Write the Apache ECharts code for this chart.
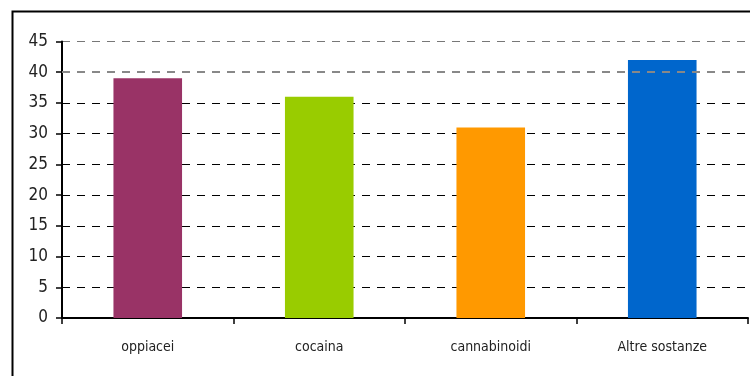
<!DOCTYPE html>
<html>
<head>
<meta charset="utf-8">
<script src="https://cdn.jsdelivr.net/npm/echarts@6/dist/echarts.min.js"></script>
<style>
  html, body { margin: 0; padding: 0; background: #fff; }
  #chart { width: 750px; height: 376px; }
</style>
</head>
<body>
<div id="chart"></div>
<script>
// Categories and values
const categories = ['oppiacei', 'cocaina', 'cannabinoidi', 'Altre sostanze'];
const values = [39, 36, 31, 42];
const barColors = ['#993366', '#99CC00', '#FF9900', '#0066CC'];
const yTicks = { min: 0, max: 45, interval: 5 };

const FONT = '"Liberation Sans Narrow", "Arial Narrow", "DejaVu Sans Condensed", sans-serif';

const chart = echarts.init(document.getElementById('chart'), null, { renderer: 'canvas' });

chart.setOption({
  animation: false,
  backgroundColor: '#fff',
  graphic: [{
    type: 'rect',
    left: 10, top: 9,
    shape: { width: 800, height: 420 },
    style: { fill: 'none', stroke: '#000', lineWidth: 2 },
    silent: true
  }],
  grid: { left: 62, right: 2, top: 41.5, bottom: 58 },
  xAxis: {
    type: 'category',
    data: categories,
    axisLine: { lineStyle: { color: '#000', width: 2 } },
    axisTick: { show: true, length: 6, alignWithLabel: false, lineStyle: { color: '#000', width: 1.5 } },
    axisLabel: { color: '#222', fontFamily: FONT, fontSize: 14, margin: 22 },
    splitLine: { show: false }
  },
  yAxis: {
    type: 'value',
    min: yTicks.min, max: yTicks.max, interval: yTicks.interval,
    axisLine: { show: true, lineStyle: { color: '#000', width: 2 } },
    axisTick: { show: true, length: 6, lineStyle: { color: '#000', width: 1.5 } },
    axisLabel: { color: '#222', fontFamily: FONT, fontSize: 17, margin: 14 },
    splitLine: {
      show: true,
      lineStyle: {
        color: ['#000', '#000', '#000', '#000', '#000', '#000', '#000', '#000', 'rgba(0,0,0,0)', '#777'],
        width: 1,
        type: [8, 7]
      }
    }
  },
  series: [{
    type: 'bar',
    data: values.map((v, i) => ({ value: v, itemStyle: { color: barColors[i] } })),
    barWidth: '40%',
    markLine: {
      silent: true,
      symbol: 'none',
      label: { show: false },
      lineStyle: { color: '#888', width: 2, type: [8, 7] },
      data: [{ yAxis: 40 }]
    }
  }]
});
</script>
</body>
</html>
